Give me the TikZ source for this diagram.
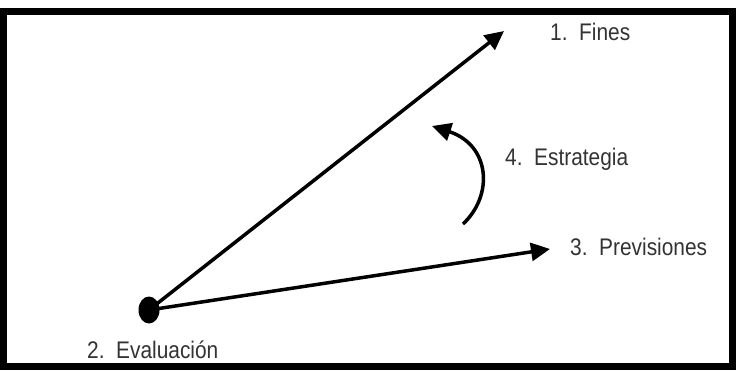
\documentclass[tikz,border=0pt]{standalone}
\usepackage{fontspec}
\setmainfont[FakeStretch=0.87]{Liberation Sans}
\usepackage{tikz}
\usetikzlibrary{positioning,arrows.meta,shapes.geometric}
\usepackage{xcolor}
\definecolor{txtgray}{HTML}{333333}

\begin{document}
\begin{tikzpicture}[x=1pt,y=-1pt,>={Triangle[length=19pt,width=18pt]},
  lbl/.style={inner sep=0pt,anchor=base west,text=txtgray,font=\fontsize{24}{28}\selectfont}]
\useasboundingbox (0,0) rectangle (736,370);
\draw[line width=7pt] (3.5,11.5) rectangle (732.5,366.5);
\node[ellipse,fill=black,inner sep=0pt,minimum width=21pt,minimum height=27pt] (eval) at (149,310) {};
\coordinate (tipF) at (504,31);
\coordinate (tipP) at (550,249);
\coordinate (curveA) at (463,224);
\coordinate (curveB) at (432,126);
\draw[->,line width=3.5pt] (eval.center) -- (tipF);
\draw[->,line width=3.5pt] (eval.center) -- (tipP);
\draw[->,line width=3.5pt] (curveA) .. controls (494,195) and (490,145) .. (curveB);
\node[lbl] (fines) at (550,40) {1.~~Fines};
\node[lbl] (prev) at (570,255) {3.~~Previsiones};
\node[lbl] (estr) at (505,165) {4.~~Estrategia};
\node[lbl] (evaltxt) at (87,358) {2.~~Evaluación};
\end{tikzpicture}
\end{document}
